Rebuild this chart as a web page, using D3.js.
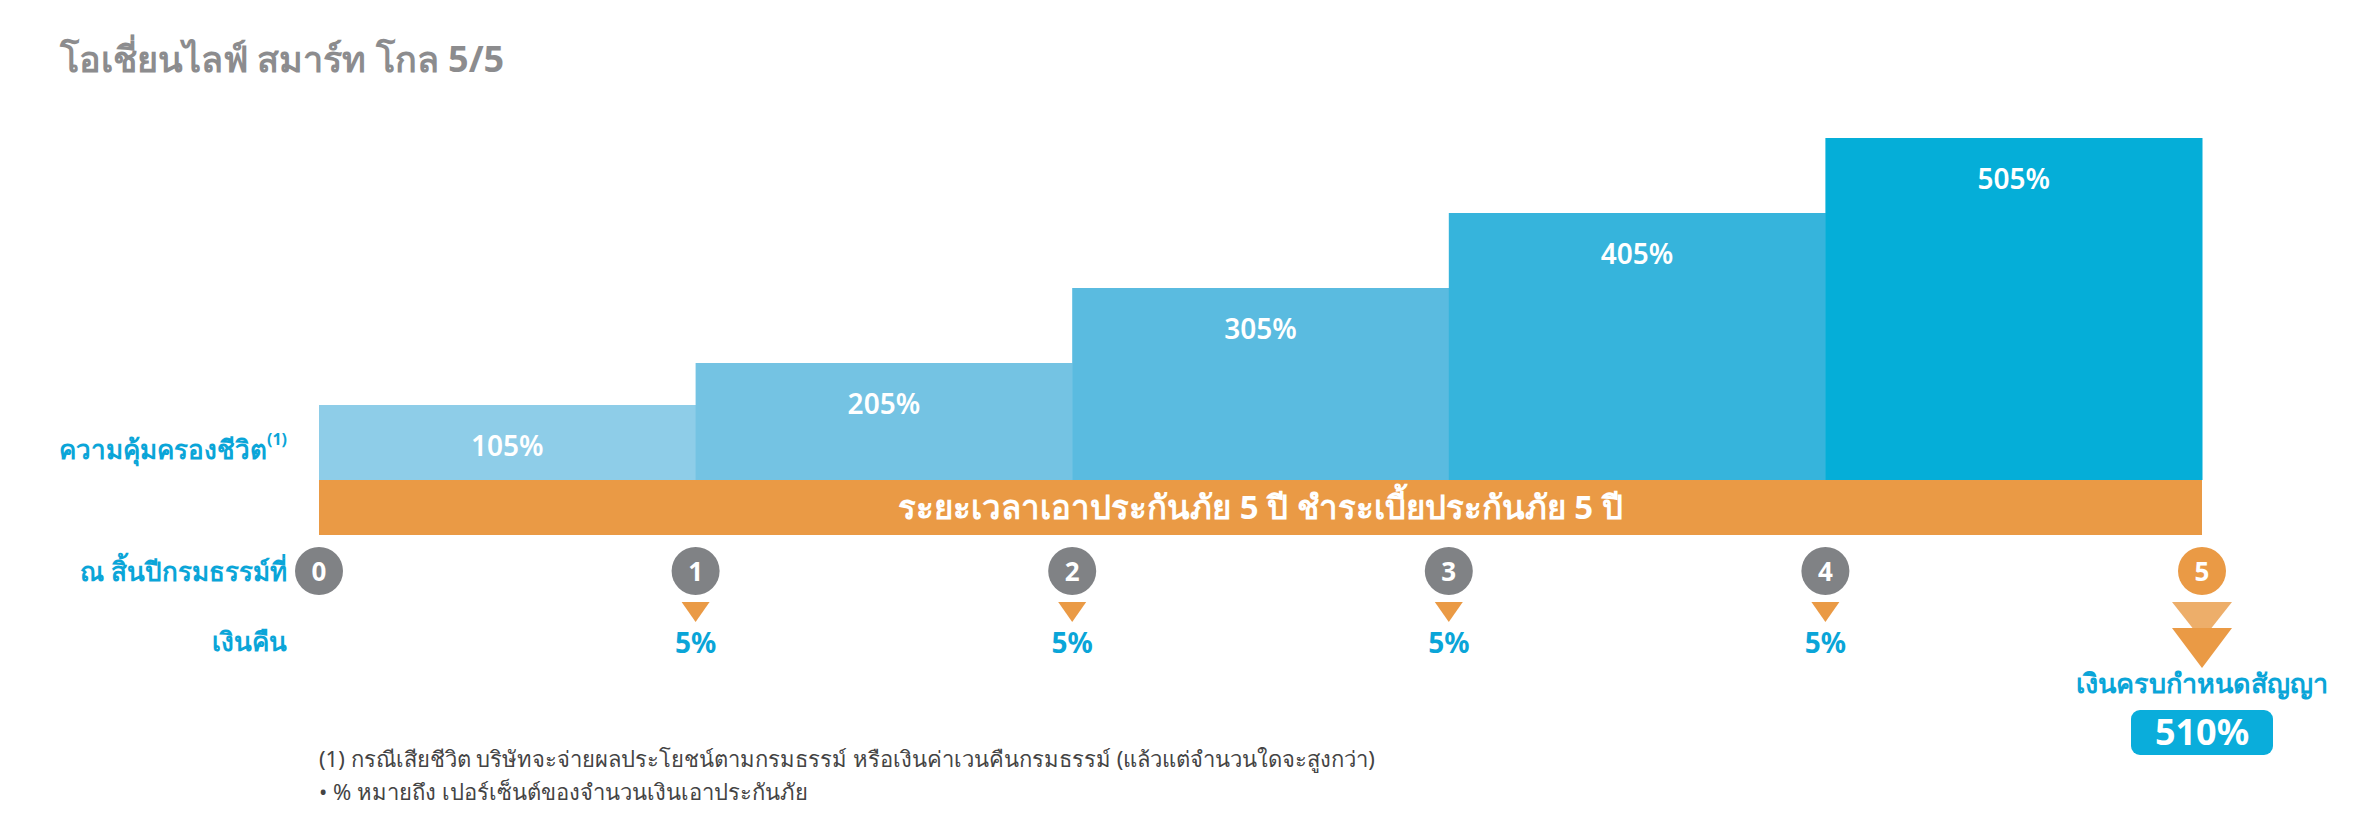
<!DOCTYPE html>
<html><head><meta charset="utf-8">
<script src="https://cdn.jsdelivr.net/npm/d3@7"></script>
<style>body{margin:0;background:#fff}svg{font-family:"Noto Sans",sans-serif}</style>
</head><body><svg id="c" width="2362" height="827"></svg>
<script>
const years=[0,1,2,3,4,5];
const coverage=[105,205,305,405,505];
const coverageLabels=["105%","205%","305%","405%","505%"];
const cashback=[null,5,5,5,5,null];
const maturity="510%";
const barColors=["#8ECDE8","#74C3E3","#5ABBE0","#36B4DC","#05AED8"];
const title="โอเชี่ยนไลฟ์ สมาร์ท โกล 5/5";
const bandText="ระยะเวลาเอาประกันภัย 5 ปี ชำระเบี้ยประกันภัย 5 ปี";
const footnotes=["(1)  กรณีเสียชีวิต บริษัทจะจ่ายผลประโยชน์ตามกรมธรรม์ หรือเงินค่าเวนคืนกรมธรรม์ (แล้วแต่จำนวนใดจะสูงกว่า)","• % หมายถึง เปอร์เซ็นต์ของจำนวนเงินเอาประกันภัย"];

const svg=d3.select("#c");
const x=d3.scaleLinear().domain([0,5]).range([319,2202]);
const base=480;
const h=d3.scaleLinear().domain([0,105,205,505]).range([0,75,117,342]);
const blue="#0AA5D8", orange="#EA9A45", gray="#808285";

svg.append("text").attr("x",60).attr("y",72).text(title).attr("font-size",36).attr("font-weight",700).attr("fill","#8C8C8E");

svg.selectAll(".bar").data(coverage).enter().append("rect")
 .attr("x",(d,i)=>x(i)).attr("width",(d,i)=>x(i+1)-x(i)+0.5)
 .attr("y",d=>base-h(d)).attr("height",d=>h(d)).attr("fill",(d,i)=>barColors[i]);
svg.selectAll(".bl").data(coverage).enter().append("text")
 .attr("x",(d,i)=>(x(i)+x(i+1))/2).attr("y",d=>base-h(d)+51).attr("text-anchor","middle")
 .attr("font-size",28).attr("font-weight",600).attr("fill","#fff").text((d,i)=>coverageLabels[i]);

svg.append("rect").attr("x",x(0)).attr("width",x(5)-x(0)).attr("y",base).attr("height",55).attr("fill",orange);
svg.append("text").attr("x",(x(0)+x(5))/2).attr("y",base+39).attr("text-anchor","middle").attr("font-size",33).attr("font-weight",700).attr("fill","#fff").text(bandText);

const lab=(t,y,fs)=>svg.append("text").attr("x",287).attr("y",y).attr("text-anchor","end").attr("font-size",fs||26).attr("font-weight",700).attr("fill",blue).text(t);
const l1=lab("ความคุ้มครองชีวิต",459);
l1.append("tspan").attr("font-size",16).attr("dy",-14).text("(1)");
lab("ณ สิ้นปีกรมธรรม์ที่",581);
lab("เงินคืน",651);

const g=svg.selectAll(".yr").data(years).enter().append("g").attr("transform",d=>`translate(${x(d)},571)`);
g.append("circle").attr("r",24).attr("fill",d=>d===5?orange:gray);
g.append("text").attr("y",10).attr("text-anchor","middle").attr("font-size",26).attr("font-weight",700).attr("fill","#fff").text(d=>d);

years.forEach((yr,i)=>{
 if(cashback[i]==null) return;
 svg.append("path").attr("d",`M${x(yr)-14},602 L${x(yr)+14},602 L${x(yr)},622 Z`).attr("fill",orange);
 svg.append("text").attr("x",x(yr)).attr("y",653).attr("text-anchor","middle").attr("font-size",28).attr("font-weight",700).attr("fill",blue).text(cashback[i]+"%");
});
const x5=x(5);
svg.append("path").attr("d",`M${x5-30},602 L${x5+30},602 L${x5},640 Z`).attr("fill","#EDAE6A");
svg.append("path").attr("d",`M${x5-30},628 L${x5+30},628 L${x5},668 Z`).attr("fill",orange);
svg.append("text").attr("x",x5).attr("y",693).attr("text-anchor","middle").attr("font-size",27).attr("font-weight",700).attr("fill",blue).text("เงินครบกำหนดสัญญา");
svg.append("rect").attr("x",x5-71).attr("y",710).attr("width",142).attr("height",45).attr("rx",9).attr("fill","#0AADDB");
svg.append("text").attr("x",x5).attr("y",745).attr("text-anchor","middle").attr("font-size",36).attr("font-weight",700).attr("fill","#fff").text(maturity);

footnotes.forEach((t,i)=>svg.append("text").attr("x",319).attr("y",767+i*33).attr("font-size",22).attr("fill","#444").text(t));
</script></body></html>
